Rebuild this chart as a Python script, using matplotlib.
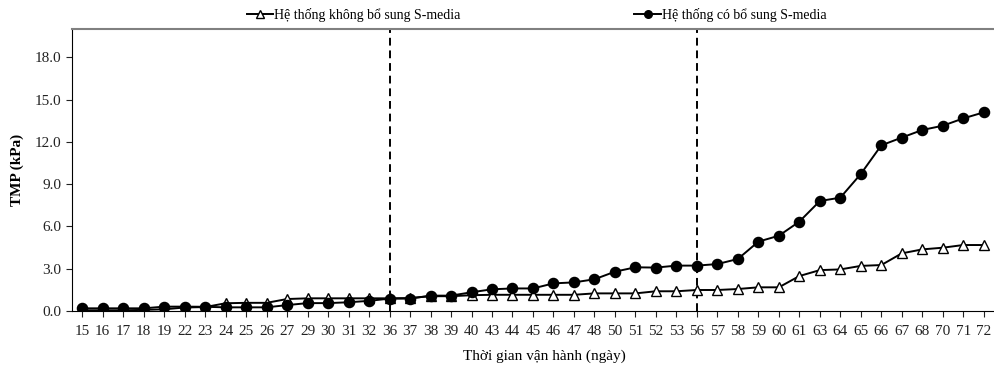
import numpy as np
import matplotlib.pyplot as plt

# ngay van hanh (truc x dang danh muc)
ngay = ["15", "16", "17", "18", "19", "22", "23", "24", "25", "26", "27", "29", "30", "31", "32",
        "36", "37", "38", "39", "40", "43", "44", "45", "46", "47", "48", "50", "51", "52", "53",
        "56", "57", "58", "59", "60", "61", "63", "64", "65", "66", "67", "68", "70", "71", "72"]

# TMP (kPa) - he thong khong bo sung S-media
tmp_khong = [0.05, 0.05, 0.05, 0.08, 0.12, 0.25, 0.28, 0.55, 0.58, 0.58, 0.85, 0.9, 0.9, 0.9, 0.9,
             0.9, 0.92, 1.05, 1.05, 1.12, 1.15, 1.15, 1.15, 1.15, 1.15, 1.25, 1.25, 1.25, 1.4, 1.4,
             1.49, 1.49, 1.56, 1.68, 1.68, 2.48, 2.9, 2.95, 3.2, 3.26, 4.09, 4.37, 4.49, 4.68, 4.68]

# TMP (kPa) - he thong co bo sung S-media
tmp_co = [0.19, 0.19, 0.19, 0.19, 0.31, 0.31, 0.3, 0.26, 0.26, 0.26, 0.42, 0.56, 0.56, 0.62, 0.72,
          0.88, 0.88, 1.09, 1.09, 1.33, 1.54, 1.6, 1.6, 1.96, 2.03, 2.25, 2.79, 3.1, 3.08, 3.22,
          3.22, 3.33, 3.69, 4.92, 5.34, 6.34, 7.8, 8.04, 9.72, 11.75, 12.3, 12.84, 13.14, 13.66, 14.09]

# moc chuyen giai doan (ngay 36 va 56)
moc = ["36", "56"]

plt.rcParams['font.family'] = ['Liberation Serif', 'DejaVu Serif']

fig = plt.figure(figsize=(9.94, 3.71), dpi=100)
ax = fig.add_axes([0.0724, 0.1617, 0.9276, 0.7601])

x = np.arange(len(ngay))
l1, = ax.plot(x, tmp_khong, '-', color='black', lw=1.4, marker='^', markersize=7,
              markerfacecolor='white', markeredgecolor='black', markeredgewidth=1.0, zorder=3)
l2, = ax.plot(x, tmp_co, '-', color='black', lw=1.4, marker='o', markersize=7.3,
              markerfacecolor='black', markeredgecolor='black', zorder=4)

for m in moc:
    ax.axvline(ngay.index(m), color='black', lw=1.4, ls=(0, (4, 2.5)), zorder=2)

ax.set_xlim(-0.5, len(ngay) - 0.5)
ax.set_ylim(0, 20)
ax.set_yticks(np.arange(0, 19, 3))
ax.set_yticklabels(["%.1f" % v for v in np.arange(0, 19, 3)])
ax.set_xticks(x)
ax.set_xticklabels(ngay)
ax.tick_params(axis='both', labelsize=11, colors='#222222', length=4, width=0.8, direction='out')
ax.tick_params(axis='x', pad=6)

ax.spines['right'].set_visible(False)
ax.spines['top'].set_color('#808080')
ax.spines['top'].set_linewidth(1.5)
ax.spines['left'].set_color('black')
ax.spines['bottom'].set_color('black')

ax.set_ylabel("TMP (kPa)", fontsize=11, fontweight='bold', labelpad=8)
ax.set_xlabel("Thời gian vận hành (ngày)", fontsize=11, labelpad=6)
ax.xaxis.set_label_coords(0.512, -0.135)

fig.legend([l1, l2], ["Hệ thống không bổ sung S-media", "Hệ thống có bổ sung S-media"],
           loc='center', bbox_to_anchor=(0.540, 0.96), ncol=2, frameon=False,
           fontsize=10, handlelength=1.9, handletextpad=0.1, columnspacing=12.5,
           markerscale=0.75)

fig.savefig("out.png", dpi=100)
